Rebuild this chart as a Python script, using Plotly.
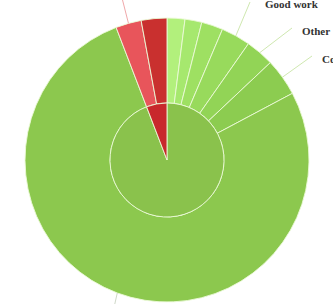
import math
import plotly.graph_objects as go

# ---- data ----
inner_labels = ["Good", "Bad"]
inner_values = [339.0, 21.0]
inner_colors = ["#8ac24c", "#c8282c"]

outer_labels = ["Great", "Nice", "Fine", "Good work", "Other", "Cool", "Good", "Poor", "Bad"]
outer_values = [7.3, 6.9, 8.8, 12.0, 11.7, 15.3, 277.0, 10.5, 10.5]
outer_colors = ["#b2f07c", "#a6e86e", "#9ee062", "#98da5c", "#92d456", "#8ccc50",
                "#8cc84e", "#e8555b", "#c9302f"]

W, H = 333, 304
CX, CY, R_OUT, R_IN = 167, 160, 142, 57

fig = go.Figure()
fig.add_trace(go.Pie(
    labels=outer_labels, values=outer_values, sort=False, direction="clockwise",
    rotation=0, hole=R_IN / R_OUT, textinfo="none", hoverinfo="label+value",
    marker=dict(colors=outer_colors, line=dict(color="rgba(235,250,215,0.9)", width=1)),
    domain=dict(x=[(CX - R_OUT) / W, (CX + R_OUT) / W],
                y=[(H - CY - R_OUT) / H, (H - CY + R_OUT) / H]),
    showlegend=False,
))
fig.add_trace(go.Pie(
    labels=inner_labels, values=inner_values, sort=False, direction="clockwise",
    rotation=0, textinfo="none", hoverinfo="label+value",
    marker=dict(colors=inner_colors, line=dict(color="rgba(235,250,215,0.9)", width=1)),
    domain=dict(x=[(CX - R_IN) / W, (CX + R_IN) / W],
                y=[(H - CY - R_IN) / H, (H - CY + R_IN) / H]),
    showlegend=False,
))

# mid angles of outer slices (degrees clockwise from 12 o'clock)
total = sum(outer_values)
mids = []
acc = 0.0
for v in outer_values:
    mids.append((acc + v / 2) / total * 360)
    acc += v


def edge(idx, r=R_OUT):
    a = math.radians(mids[idx])
    return CX + r * math.sin(a), CY - r * math.cos(a)


def px2paper(x, y):
    return x / W, 1 - y / H


# connectors: (slice index, end point px, colour, label, label pos px)
connectors = [
    (3, (250, 2), "#cfe8b0", "Good work", (263, 4)),
    (4, (292, 28), "#cfe8b0", "Other", (300, 31)),
    (5, (312, 56), "#cfe8b0", "Cool", (320, 59)),
    (7, (121, -6), "#f0a8aa", None, None),
    (6, (113, 312), "#cfd8c8", None, None),
]
shapes = []
annotations = []
for idx, end, col, lab, pos in connectors:
    x0, y0 = px2paper(*edge(idx))
    x1, y1 = px2paper(*end)
    shapes.append(dict(type="line", xref="paper", yref="paper", x0=x0, y0=y0, x1=x1, y1=y1,
                       line=dict(color=col, width=1)))
    if lab:
        lx, ly = px2paper(*pos)
        annotations.append(dict(text="<b>" + lab + "</b>", x=lx, y=ly, xref="paper", yref="paper",
                                xanchor="left", yanchor="middle", showarrow=False,
                                font=dict(family="Liberation Serif", size=11, color="#333333")))

fig.update_layout(
    width=W, height=H, margin=dict(l=0, r=0, t=0, b=0),
    paper_bgcolor="white", plot_bgcolor="white",
    shapes=shapes, annotations=annotations,
)
fig.write_html(
    "out.html",
    config={"displayModeBar": False},
    post_script="document.body.style.margin='0';document.body.style.overflow='hidden';",
)
